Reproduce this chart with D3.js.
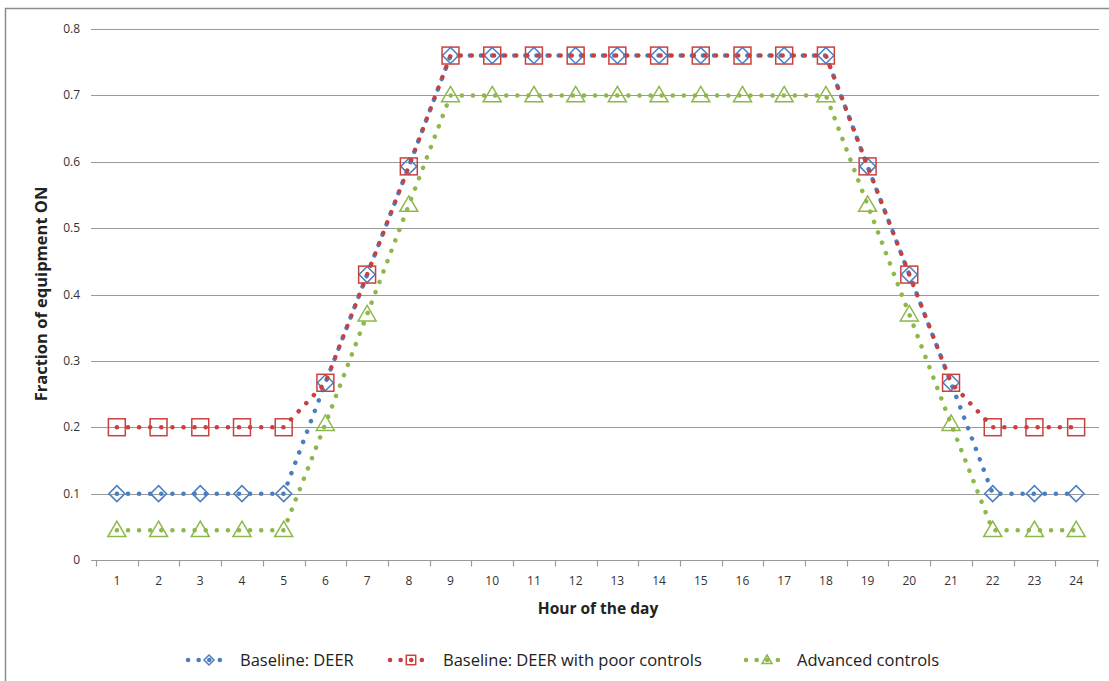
<!DOCTYPE html>
<html><head><meta charset="utf-8">
<script src="https://cdn.jsdelivr.net/npm/d3@7"></script>
<style>body{margin:0;background:#fff}svg{display:block}text{font-family:"Open Sans",Lato,sans-serif}</style>
</head><body>
<svg id="c" width="1109" height="681"></svg>
<script>
const hours = d3.range(1,25).map(String);
const yTicks = [0,0.1,0.2,0.3,0.4,0.5,0.6,0.7,0.8];
const yTickLabels = ["0","0.1","0.2","0.3","0.4","0.5","0.6","0.7","0.8"];
const deer = [0.1,0.1,0.1,0.1,0.1,0.267,0.43,0.593,0.76,0.76,0.76,0.76,0.76,0.76,0.76,0.76,0.76,0.76,0.593,0.43,0.267,0.1,0.1,0.1];
const poor = [0.2,0.2,0.2,0.2,0.2,0.267,0.43,0.593,0.76,0.76,0.76,0.76,0.76,0.76,0.76,0.76,0.76,0.76,0.593,0.43,0.267,0.2,0.2,0.2];
const adv  = [0.045,0.045,0.045,0.045,0.045,0.205,0.37,0.535,0.70,0.70,0.70,0.70,0.70,0.70,0.70,0.70,0.70,0.70,0.535,0.37,0.205,0.045,0.045,0.045];
const seriesNames = ["Baseline: DEER","Baseline: DEER with poor controls","Advanced controls"];

const series = [
  {name:seriesNames[0], values:deer, color:"#4a7ec2", shape:"diamond"},
  {name:seriesNames[1], values:poor, color:"#c9413e", shape:"square"},
  {name:seriesNames[2], values:adv,  color:"#8db84a", shape:"triangle"}
];

const svg = d3.select("#c");
svg.append("rect").attr("x",5.5).attr("y",8.5).attr("width",1110).attr("height",680)
  .attr("fill","#fff").attr("stroke","#8c8c8c").attr("stroke-width",1.5);

const x = d3.scaleBand().domain(hours).range([96,1097]);
const y = d3.scaleLinear().domain([0,0.8]).range([560,29]);
const gridX0 = 91, gridX1 = 1099;

svg.append("g").selectAll("line").data(yTicks.slice(1)).join("line")
  .attr("x1",gridX0).attr("x2",gridX1)
  .attr("y1",d=>Math.round(y(d))+0.5).attr("y2",d=>Math.round(y(d))+0.5)
  .attr("stroke","#9a9a9a").attr("stroke-width",1.2);

svg.append("g").selectAll("text").data(yTicks).join("text")
  .attr("x",80).attr("y",d=>y(d)+4).attr("text-anchor","end")
  .attr("font-size",12).attr("fill","#333").text((d,i)=>yTickLabels[i]);

const xa = svg.append("g").attr("transform","translate(0,560.5)");
xa.append("line").attr("x1",gridX0).attr("x2",gridX1).attr("stroke","#9a9a9a").attr("stroke-width",1.2);
const bounds = hours.map(h=>x(h)).concat([x(hours[23])+x.bandwidth()]);
xa.selectAll("line.t").data(bounds).join("line").attr("class","t")
  .attr("x1",d=>Math.round(d)+0.5).attr("x2",d=>Math.round(d)+0.5).attr("y1",0).attr("y2",6)
  .attr("stroke","#9a9a9a").attr("stroke-width",1.2);
xa.selectAll("text").data(hours).join("text")
  .attr("x",d=>x(d)+x.bandwidth()/2).attr("y",24).attr("text-anchor","middle")
  .attr("font-size",12).attr("fill","#333").text(d=>d);

svg.append("text").attr("x",598).attr("y",614).attr("text-anchor","middle")
  .attr("font-size",15.5).attr("font-weight","bold").attr("fill","#222").text("Hour of the day");
svg.append("text").attr("transform","translate(47,294) rotate(-90)").attr("text-anchor","middle")
  .attr("font-size",16.5).attr("font-weight","bold").attr("fill","#222").text("Fraction of equipment ON");

function drawMarker(g, shape, cx, cy, color, s){
  if(shape==="diamond"){
    const r=s*0.5;
    g.append("path").attr("d",`M${cx},${cy-r}L${cx+r},${cy}L${cx},${cy+r}L${cx-r},${cy}Z`)
      .attr("fill","none").attr("stroke",color).attr("stroke-width",1.5);
  } else if(shape==="square"){
    const r=s*0.47;
    g.append("rect").attr("x",cx-r).attr("y",cy-r).attr("width",2*r).attr("height",2*r)
      .attr("fill","none").attr("stroke",color).attr("stroke-width",1.5);
  } else {
    const r=s*0.5;
    g.append("path").attr("d",`M${cx},${cy-r}L${cx+r},${cy+r*0.72}L${cx-r},${cy+r*0.72}Z`)
      .attr("fill","none").attr("stroke",color).attr("stroke-width",1.5);
  }
}

const line = d3.line().x((d,i)=>x(hours[i])+x.bandwidth()/2).y(d=>y(d));
series.forEach(s=>{
  const g = svg.append("g");
  g.append("path").attr("d",line(s.values)).attr("fill","none").attr("stroke",s.color)
    .attr("stroke-width",4.5).attr("stroke-linecap","round").attr("stroke-dasharray","0.1 11");
  s.values.forEach((v,i)=>drawMarker(g,s.shape,x(hours[i])+x.bandwidth()/2,y(v),s.color,s.shape==="diamond"?16:18));
});

const leg = [{x0:188,tx:240},{x0:390,tx:443},{x0:746,tx:797}];
series.forEach((s,i)=>{
  const g = svg.append("g");
  const ly=660, x0=leg[i].x0, x1=x0+42;
  g.append("line").attr("x1",x0).attr("x2",x1).attr("y1",ly).attr("y2",ly).attr("stroke",s.color)
    .attr("stroke-width",4.5).attr("stroke-linecap","round").attr("stroke-dasharray","0.1 10.5");
  drawMarker(g,s.shape,(x0+x1)/2,ly,s.color,10);
  g.append("text").attr("x",leg[i].tx).attr("y",ly+6).attr("font-size",16.5).attr("fill","#222").text(s.name);
});
</script>
</body></html>
